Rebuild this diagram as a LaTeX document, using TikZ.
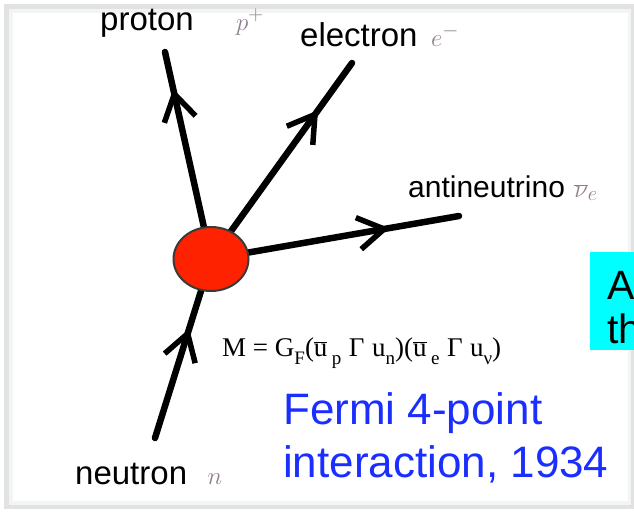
\documentclass[tikz,border=0pt]{standalone}
\usepackage{fontspec}
\setmainfont{Liberation Sans}
\newfontfamily\timesf{Liberation Serif}
\usetikzlibrary{arrows.meta,decorations.markings,shapes.geometric}
\definecolor{vred}{HTML}{FF2200}
\definecolor{vstroke}{HTML}{3A3A3A}
\definecolor{mgray}{HTML}{8F8090}
\definecolor{fblue}{HTML}{1A2EFF}
\definecolor{panel}{HTML}{F1F5F5}
\definecolor{shadow}{HTML}{E2E2E2}
\definecolor{boxcyan}{HTML}{00FFFF}
\newcommand\fsub[1]{\raisebox{-0.7ex}{\fontsize{19}{19}\selectfont #1}}
\newcommand\fbar[1]{\ensuremath{\overline{\hbox{#1}}}}
\tikzset{barbtip/.tip={Straight Barb[length=26pt,width=32pt,line width=5.5pt]}}
\begin{document}
\begin{tikzpicture}[x=1pt,y=-1pt,
  leg/.style={line width=6.5pt,line cap=round,black},
  midarrow/.style={postaction={decorate,decoration={markings,mark=at position #1 with {\arrow{barbtip}}}}},
  lab/.style={anchor=base west,inner sep=0pt,font=\fontsize{33}{36}\selectfont},
  sym/.style={anchor=base west,inner sep=0pt,text=mgray,font=\fontsize{28}{30}\selectfont},
  bigtxt/.style={anchor=base west,inner sep=0pt,font=\fontsize{44}{53}\selectfont}]
\useasboundingbox (0,0) rectangle (634,512);
\clip (0,0) rectangle (634,512);
\fill[white] (0,0) rectangle (634,512);
\fill[shadow] (4,4) rectangle (634,509);
\fill[panel] (9,9) rectangle (631,505);
\fill[white] (13,13) rectangle (628,501);
% vertex
\node[ellipse,minimum width=75pt,minimum height=64pt,inner sep=0pt] (v) at (211,259) {};
\coordinate (pE) at (165,52);
\coordinate (eE) at (352,63);
\coordinate (nuE) at (459,216);
\coordinate (nS) at (155,438);
\draw[leg,midarrow=0.79] (v) -- (pE);
\draw[leg,midarrow=0.72] (v) -- (eE);
\draw[leg,midarrow=0.67] (v) -- (nuE);
\draw[leg,midarrow=0.74] (nS) -- (v);
\node[ellipse,minimum width=75pt,minimum height=64pt,inner sep=0pt,fill=vred,draw=vstroke,line width=2pt] at (v) {};
% labels
\node[lab] (lp) at (100,30) {proton};
\node[sym] (sp) at ([xshift=42pt]lp.base east) {$p^{+}$};
\node[lab] (le) at (300,46) {electron};
\node[sym] (se) at ([xshift=13pt]le.base east) {$e^{-}$};
\node[lab,font=\fontsize{30}{34}\selectfont] (lnu) at (408,197) {antineutrino};
\node[sym] (snu) at ([xshift=9pt]lnu.base east) {$\overline{\nu}_{e}$};
\node[lab] (ln) at (75,484) {neutron};
\node[sym] (sn) at ([xshift=20pt]ln.base east) {$n$};
% formula
\node[anchor=base west,inner sep=0pt,font=\timesf\fontsize{27}{30}\selectfont] (fm) at (222,356)
  {M = G\fsub{F}(\fbar{u}\,\fsub{p}\;Γ\;u\fsub{n})(\fbar{u}\,\fsub{e}\;Γ\;u\fsub{ν})};
% Fermi text
\node[bigtxt,text=fblue,align=left] (ft) at (283,477) {Fermi 4-point\\interaction, 1934};
% cyan box
\fill[boxcyan] (590,252) rectangle (640,350);
\node[anchor=base west,inner sep=0pt,align=left,font=\fontsize{41}{44}\selectfont] (ct) at (607,343) {A\\th};
\end{tikzpicture}
\end{document}
